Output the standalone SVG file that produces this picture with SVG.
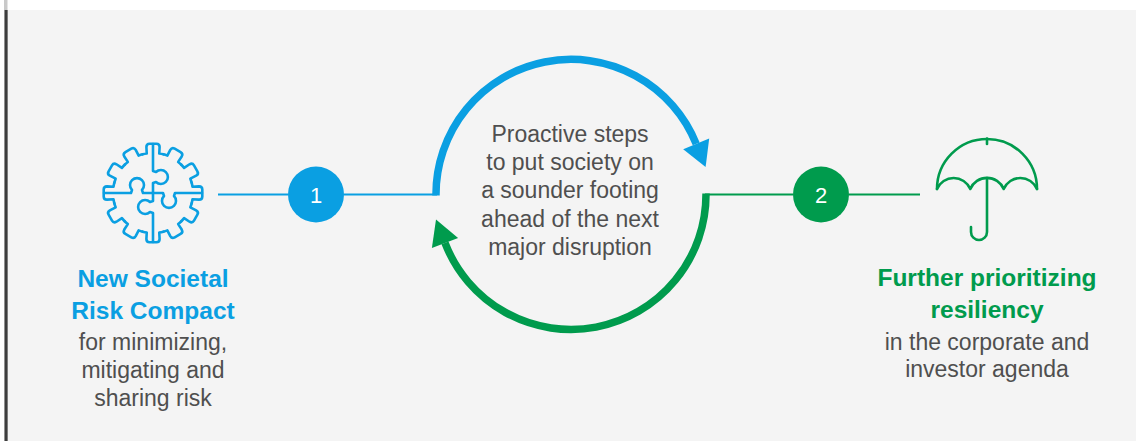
<svg xmlns="http://www.w3.org/2000/svg" xmlns:xlink="http://www.w3.org/1999/xlink" width="1140" height="441" viewBox="0 0 1140 441">
<style>
.body{font-family:"Liberation Sans",Arial,sans-serif;font-size:23px;fill:#4f4f4f;text-anchor:middle}
.head{font-family:"Liberation Sans",Arial,sans-serif;font-size:24.5px;font-weight:bold;text-anchor:middle}
.num{font-family:"Liberation Sans",Arial,sans-serif;font-size:22px;fill:#fff;text-anchor:middle}
.blue{fill:#0a9fe2}
.green{fill:#009b4d}
.iconB{fill:none;stroke:#0a9fe2;stroke-width:2.6;stroke-linejoin:round;stroke-linecap:round}
.iconG{fill:none;stroke:#009b4d;stroke-width:2.6;stroke-linejoin:round;stroke-linecap:round}
.lineB{fill:none;stroke:#0a9fe2;stroke-width:2}
.lineG{fill:none;stroke:#009b4d;stroke-width:2}
.arcB{fill:none;stroke:#0a9fe2;stroke-width:7.5}
.arcG{fill:none;stroke:#009b4d;stroke-width:7.5}
</style>
<defs>
<path id="tooth" d="M-10.35,-38.64 A40,40 0 0 1 -6.26,-39.51 L-6.6,-46 Q-6.6,-49.3 -3.4,-49.3 L3.4,-49.3 Q6.6,-49.3 6.6,-46 L6.26,-39.51 A40,40 0 0 1 10.35,-38.64"/>
</defs>
<rect width="1140" height="441" fill="#ffffff"/>
<rect x="8" y="10" width="1128" height="431" fill="#f4f4f4"/>
<rect x="4" y="0" width="3.5" height="441" fill="#c9c9c9"/>
<rect x="4.6" y="10" width="3" height="431" fill="#3d3d3d"/>

<g id="connectors">
<line class="lineB" x1="218" y1="194.5" x2="288" y2="194.5"/>
<line class="lineB" x1="344" y1="194.5" x2="437" y2="194.5"/>
<line class="lineG" x1="705" y1="194.5" x2="793" y2="194.5"/>
<line class="lineG" x1="849" y1="194.5" x2="920" y2="194.5"/>
<path class="arcB" d="M436,195.5 A135,135 0 0 1 696.2,143.9"/>
<polygon class="blue" points="683.2,149.2 709.2,138.6 705.6,167.1"/>
<path class="arcG" d="M706,193.5 A135,135 0 0 1 445,242.9"/>
<polygon class="green" points="431.9,247.9 458.1,237.9 436,219.6"/>
</g>

<g id="node-left">
<g class="iconB">
<use xlink:href="#tooth" href="#tooth" transform="translate(153,193)"/>
<use xlink:href="#tooth" href="#tooth" transform="translate(153,193) rotate(30)"/>
<use xlink:href="#tooth" href="#tooth" transform="translate(153,193) rotate(60)"/>
<use xlink:href="#tooth" href="#tooth" transform="translate(153,193) rotate(90)"/>
<use xlink:href="#tooth" href="#tooth" transform="translate(153,193) rotate(120)"/>
<use xlink:href="#tooth" href="#tooth" transform="translate(153,193) rotate(150)"/>
<use xlink:href="#tooth" href="#tooth" transform="translate(153,193) rotate(180)"/>
<use xlink:href="#tooth" href="#tooth" transform="translate(153,193) rotate(210)"/>
<use xlink:href="#tooth" href="#tooth" transform="translate(153,193) rotate(240)"/>
<use xlink:href="#tooth" href="#tooth" transform="translate(153,193) rotate(270)"/>
<use xlink:href="#tooth" href="#tooth" transform="translate(153,193) rotate(300)"/>
<use xlink:href="#tooth" href="#tooth" transform="translate(153,193) rotate(330)"/>
<path d="M153,144 V171 L156,172 A7,7 0 1 1 156,182 L153,183 V193"/>
<path d="M104,193 H131 L132,190 A7,7 0 1 1 142,190 L143,193 H153"/>
<path d="M153,193 V201 L150,202 A7,7 0 1 0 150,212 L153,213 V242"/>
<path d="M153,193 H163 L164,196 A7,7 0 1 0 174,196 L175,193 H202"/>
</g>
<text class="head blue" x="153" y="287">New Societal</text>
<text class="head blue" x="153" y="319">Risk Compact</text>
<text class="body" x="153" y="350">for minimizing,</text>
<text class="body" x="153" y="378">mitigating and</text>
<text class="body" x="153" y="406">sharing risk</text>
</g>

<g id="step-1">
<circle cx="316" cy="194.5" r="28" class="blue"/>
<text class="num" x="316" y="202.5">1</text>
</g>

<g id="cycle">
<text class="body" x="570" y="142">Proactive steps</text>
<text class="body" x="570" y="170">to put society on</text>
<text class="body" x="570" y="198">a sounder footing</text>
<text class="body" x="570" y="226.5">ahead of the next</text>
<text class="body" x="570" y="255">major disruption</text>
</g>

<g id="step-2">
<circle cx="821" cy="194.5" r="28" class="green"/>
<text class="num" x="821" y="202.5">2</text>
</g>

<g id="node-right">
<g class="iconG">
<path d="M987,138.5 V144"/>
<path d="M937,189 A50,50 0 0 1 1037,189"/>
<path d="M937,189 A18.1,18.1 0 0 1 970.3,189 A18.1,18.1 0 0 1 1003.7,189 A18.1,18.1 0 0 1 1037,189"/>
<path d="M987,178 V232 A8,8 0 0 1 971,232 V227"/>
</g>
<text class="head green" x="987" y="286">Further prioritizing</text>
<text class="head green" x="987" y="318">resiliency</text>
<text class="body" x="987" y="350">in the corporate and</text>
<text class="body" x="987" y="377">investor agenda</text>
</g>
</svg>
